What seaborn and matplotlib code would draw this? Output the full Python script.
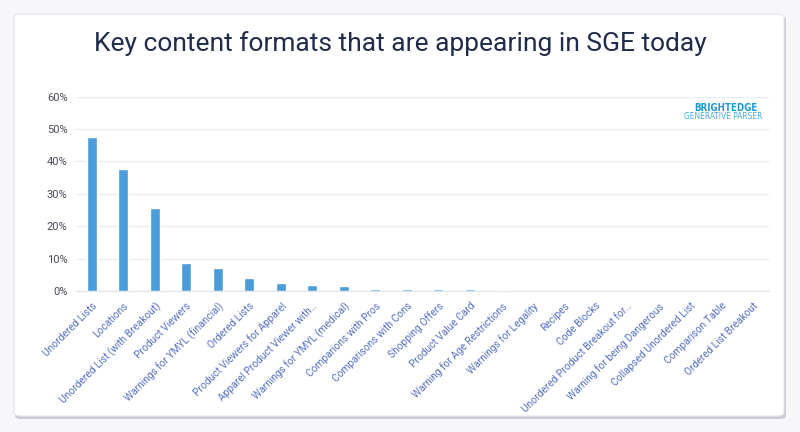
import numpy as np
import pandas as pd
import matplotlib
matplotlib.use('Agg')
import matplotlib.pyplot as plt
import seaborn as sns
from matplotlib.patches import FancyBboxPatch
from matplotlib.ticker import PercentFormatter

formats = ['Unordered Lists', 'Locations', 'Unordered List (with Breakout)', 'Product Viewers',
           'Warnings for YMYL (financial)', 'Ordered Lists', 'Product Viewers for Apparel',
           'Apparel Product Viewer with\u2026', 'Warnings for YMYL (medical)', 'Comparions with Pros',
           'Comparisons with Cons', 'Shopping Offers', 'Product Value Card',
           'Warning for Age Restrictions', 'Warnings for Legality', 'Recipes', 'Code Blocks',
           'Unordered Product Breakout for\u2026', 'Warning for being Dangerous',
           'Collapsed Unordered List', 'Comparison Table', 'Ordered List Breakout']
share = [0.476, 0.377, 0.257, 0.086, 0.070, 0.040, 0.024, 0.018, 0.016, 0.006,
         0.006, 0.005, 0.005, 0.003, 0.001, 0.001, 0.001, 0.001, 0.001, 0.001, 0.001, 0.001]
yticks = [0, 0.1, 0.2, 0.3, 0.4, 0.5, 0.6]

df = pd.DataFrame({'format': formats, 'share': share})

sns.set_style('white')
plt.rcParams['font.family'] = ['Roboto', 'DejaVu Sans']

fig = plt.figure(figsize=(8, 4.32), dpi=100)
fig.patch.set_facecolor('#f7f7f9')

# card with a soft shadow
W, H = 800, 432
shadow = FancyBboxPatch((15 / W, (432 - 419) / H), (786 - 15) / W, (419 - 16) / H,
                        boxstyle='round,pad=0,rounding_size=0.008', transform=fig.transFigure,
                        facecolor='#c9ccd8', edgecolor='none', zorder=0)
card = FancyBboxPatch((14 / W, (432 - 416) / H), (784 - 14) / W, (416 - 14) / H,
                      boxstyle='round,pad=0,rounding_size=0.008', transform=fig.transFigure,
                      facecolor='white', edgecolor='#e3e5ec', linewidth=0.8, zorder=1)
fig.patches.extend([shadow, card])

ax = fig.add_axes([76 / W, 1 - 291 / H, (769 - 76) / W, (291 - 96.7) / H])
ax.set_facecolor('none')
ax.set_zorder(2)

sns.barplot(data=df, x='format', y='share', color='#4a9dd8', width=0.32, saturation=1, ax=ax)

ax.set_ylim(0, 0.6)
ax.set_yticks(yticks)
ax.yaxis.set_major_formatter(PercentFormatter(1, decimals=0))
ax.grid(axis='y', color='#e8ecf3', linewidth=1)
ax.set_axisbelow(True)
for s in ['top', 'right', 'left']:
    ax.spines[s].set_visible(False)
ax.spines['bottom'].set_color('#e0e6f0')
ax.set_xlabel('')
ax.set_ylabel('')
ax.tick_params(axis='y', length=0, labelsize=8, labelcolor='#464a55', pad=6)
ax.tick_params(axis='x', length=0, pad=7)
ax.set_xticks(range(len(formats)))
ax.set_xticklabels(formats, rotation=45, ha='right', rotation_mode='anchor',
                   fontsize=7.3, color='#5470c6')

fig.text(0.5, 1 - 44 / H, 'Key content formats that are appearing in SGE today',
         ha='center', va='center', fontsize=19, color='#1f2c4c')
fig.text(758 / W, 1 - 108 / H, 'BRIGHTEDGE', ha='right', va='center', fontsize=7,
         fontweight='bold', color='#1a9ad6', family='DejaVu Sans', fontstretch='condensed')
fig.text(762 / W, 1 - 117 / H, 'GENERATIVE PARSER', ha='right', va='center', fontsize=6,
         color='#43a9de', family='DejaVu Sans', fontstretch='condensed')

fig.savefig('out.png', dpi=100, facecolor=fig.get_facecolor())
